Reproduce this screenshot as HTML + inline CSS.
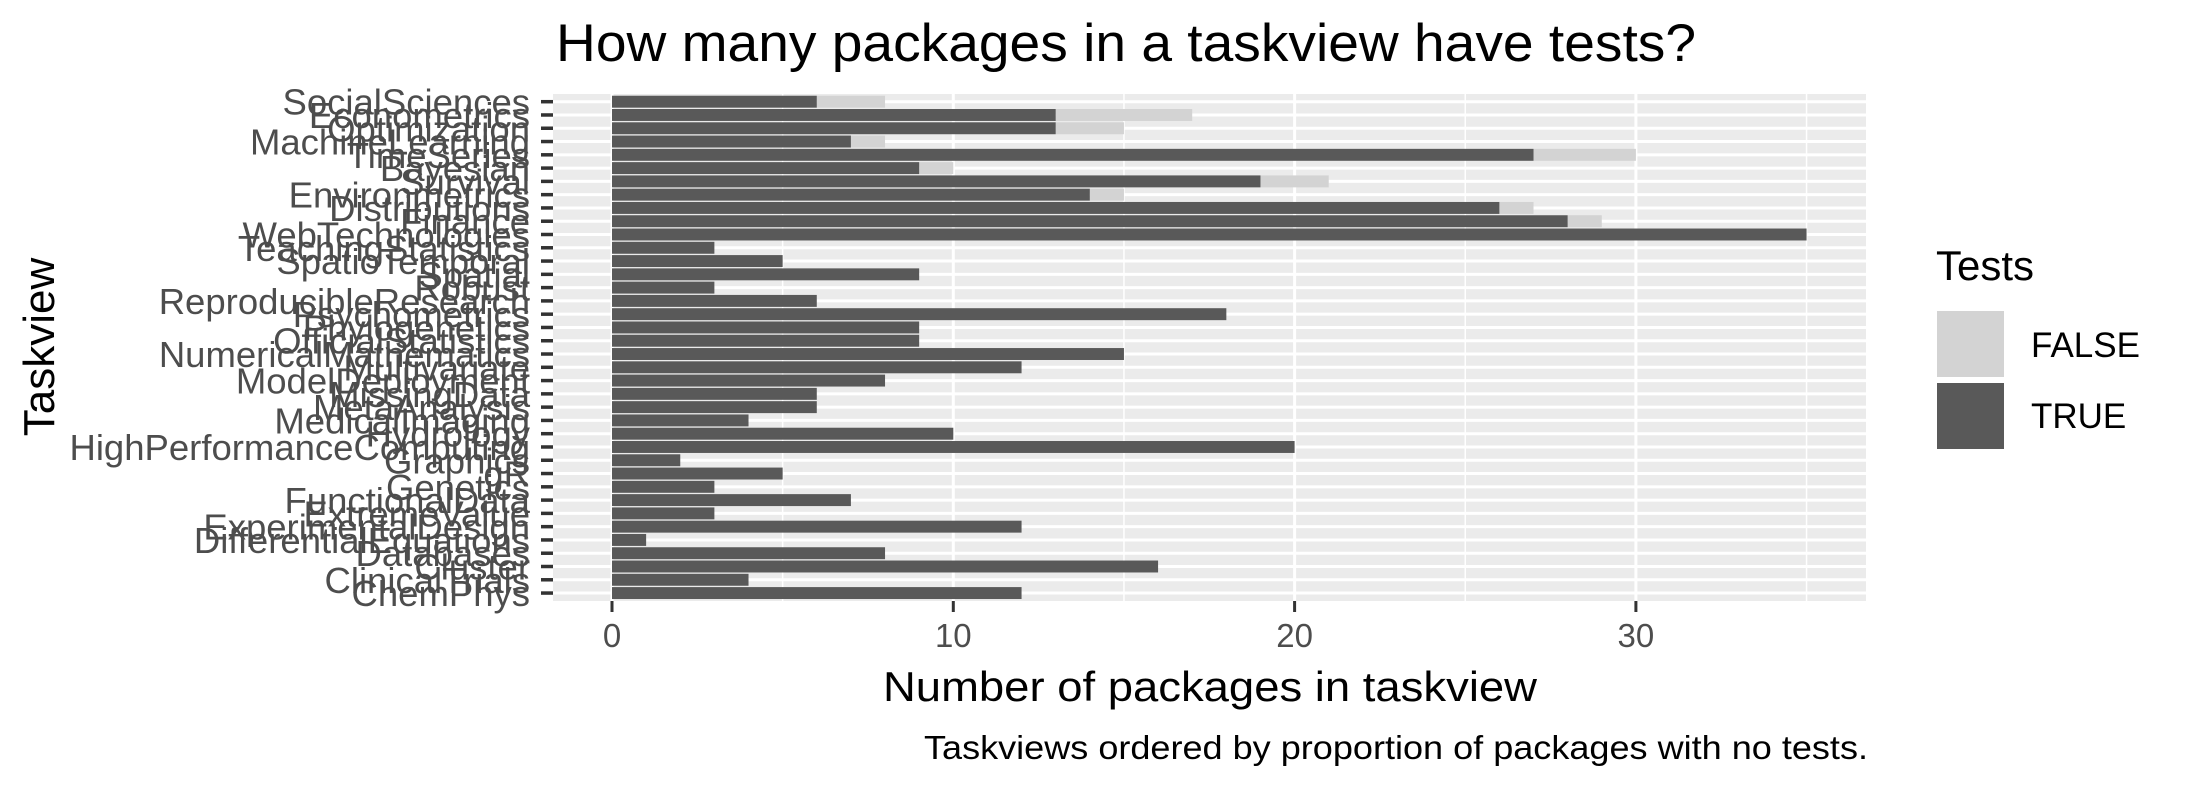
<!DOCTYPE html>
<html><head><meta charset="utf-8"><style>
html,body{margin:0;padding:0;background:#fff;}
svg{display:block;font-family:"Liberation Sans",sans-serif;}
</style></head><body>
<svg id="chart" width="2187" height="793" viewBox="0 0 2187 793">
<text x="1126" y="61" font-size="53" text-anchor="middle" textLength="1140" lengthAdjust="spacingAndGlyphs" fill="#000">How many packages in a taskview have tests?</text>
<rect x="553" y="94" width="1313" height="507" fill="#ebebeb"/>
<g id="grid"></g><g id="bars"></g><g id="yaxis"></g><g id="xaxis"></g>
<text x="1210" y="701" font-size="42" text-anchor="middle" textLength="654" lengthAdjust="spacingAndGlyphs" fill="#000">Number of packages in taskview</text>
<text transform="translate(54,347) rotate(-90)" font-size="44" text-anchor="middle" fill="#000">Taskview</text>
<text x="1868" y="759" font-size="33" text-anchor="end" textLength="944" lengthAdjust="spacingAndGlyphs" fill="#000">Taskviews ordered by proportion of packages with no tests.</text>
<g>
<text x="1936" y="280" font-size="42" fill="#000">Tests</text>
<rect x="1937" y="311" width="67" height="66" fill="#d3d3d3"/>
<text x="2031" y="357" font-size="35" fill="#000">FALSE</text>
<rect x="1937" y="383" width="67" height="66" fill="#595959"/>
<text x="2031" y="428" font-size="35" fill="#000">TRUE</text>
</g>
</svg>
<script>
const categories = ["SocialSciences","Econometrics","Optimization","MachineLearning","TimeSeries","Bayesian","Survival","Environmetrics","Distributions","Finance","WebTechnologies","TeachingStatistics","SpatioTemporal","Spatial","Robust","ReproducibleResearch","Psychometrics","Phylogenetics","OfficialStatistics","NumericalMathematics","Multivariate","ModelDeployment","MissingData","MetaAnalysis","MedicalImaging","Hydrology","HighPerformanceComputing","Graphics","gR","Genetics","FunctionalData","ExtremeValue","ExperimentalDesign","DifferentialEquations","Databases","Cluster","ClinicalTrials","ChemPhys"];
const withTests = [6,13,13,7,27,9,19,14,26,28,35,3,5,9,3,6,18,9,9,15,12,8,6,6,4,10,20,2,5,3,7,3,12,1,8,16,4,12];
const withoutTests = [2,4,2,1,3,1,2,1,1,1,0,0,0,0,0,0,0,0,0,0,0,0,0,0,0,0,0,0,0,0,0,0,0,0,0,0,0,0];
const xTicks = [0,10,20,30];
const xMinor = [5,15,25,35];

const NS="http://www.w3.org/2000/svg";
const x0=612, unit=34.13, panelL=553, panelR=1866, panelT=94, panelB=601;
const rowTop=101.7, rowStep=13.28, barH=11.95;
const xs=v=>x0+v*unit;
const ys=i=>rowTop+i*rowStep;
function mk(tag,attrs,parent){const e=document.createElementNS(NS,tag);for(const k in attrs)e.setAttribute(k,attrs[k]);parent.appendChild(e);return e;}
const grid=document.getElementById('grid'),bars=document.getElementById('bars'),ya=document.getElementById('yaxis'),xa=document.getElementById('xaxis');
xMinor.forEach(v=>{const l=mk('line',{x1:xs(v),x2:xs(v),y1:panelT,y2:panelB,stroke:'#fff','stroke-width':1.5},grid);

});
xTicks.forEach(v=>{const l=mk('line',{x1:xs(v),x2:xs(v),y1:panelT,y2:panelB,stroke:'#fff','stroke-width':3},grid);

});
categories.forEach((c,i)=>{const y=ys(i);
const g=mk('line',{x1:panelL,x2:panelR,y1:y,y2:y,stroke:'#fff','stroke-width':3},grid);


const t=withTests[i],f=withoutTests[i];
if(f>0){const r=mk('rect',{x:xs(t),y:y-barH/2,width:xs(t+f)-xs(t),height:barH,fill:'#d3d3d3'},bars);

}
const r2=mk('rect',{x:xs(0),y:y-barH/2,width:xs(t)-xs(0),height:barH,fill:'#595959'},bars);


const tk=mk('line',{x1:541,x2:553,y1:y,y2:y,stroke:'#333','stroke-width':3.5},ya);


const lb=mk('text',{x:530,y:y+13,'font-size':36.5,'text-anchor':'end',fill:'#4d4d4d'},ya);
lb.textContent=c;

});
xTicks.forEach(v=>{const tk=mk('line',{x1:xs(v),x2:xs(v),y1:panelB,y2:panelB+11,stroke:'#333','stroke-width':3},xa);


const lb=mk('text',{x:xs(v),y:647,'font-size':33,'text-anchor':'middle',fill:'#4d4d4d'},xa);
lb.textContent=v;

});
</script>
</body></html>
